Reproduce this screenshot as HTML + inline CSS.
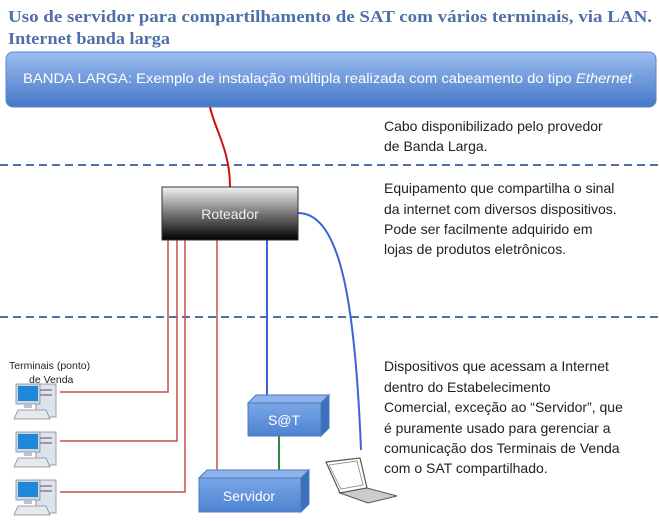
<!DOCTYPE html>
<html><head><meta charset="utf-8"><style>
html,body{margin:0;padding:0;background:#fff;}
svg{display:block;font-family:"Liberation Sans",sans-serif;}
</style></head><body>
<svg width="659" height="521" viewBox="0 0 659 521" xmlns="http://www.w3.org/2000/svg">
<defs>
<linearGradient id="bl" x1="0" y1="0" x2="0" y2="1"><stop offset="0" stop-color="#9dbdf0"/><stop offset="1" stop-color="#4478c8"/></linearGradient>
<linearGradient id="rt" x1="0" y1="0" x2="0" y2="1"><stop offset="0" stop-color="#f2f2f2"/><stop offset="0.5" stop-color="#777"/><stop offset="1" stop-color="#000"/></linearGradient>
<linearGradient id="bx" x1="0" y1="0" x2="0" y2="1"><stop offset="0" stop-color="#7aa6e6"/><stop offset="1" stop-color="#4d83d2"/></linearGradient>
<g id="pc">
<rect x="20" y="-8" width="20" height="33" fill="#dde3ea" stroke="#889" stroke-width="0.8"/>
<rect x="24" y="-3" width="12" height="2" fill="#99a"/>
<rect x="24" y="2" width="12" height="2" fill="#99a"/>
<rect x="0" y="-8" width="24" height="20" fill="#cfd8e2" stroke="#889" stroke-width="0.8"/>
<rect x="2" y="-6" width="20" height="15" fill="#1e88d8"/>
<rect x="8" y="12" width="8" height="4" fill="#b8c2cc"/>
<polygon points="2,18 30,18 34,27 -2,27" fill="#e6e9ee" stroke="#889" stroke-width="0.8"/>
</g>
</defs>
<text x="8" y="22" font-family="Liberation Serif,serif" font-weight="bold" font-size="17" fill="#4f70a6" textLength="644" lengthAdjust="spacingAndGlyphs">Uso de servidor para compartilhamento de SAT com vários terminais, via LAN.</text>
<text x="8" y="44" font-family="Liberation Serif,serif" font-weight="bold" font-size="17" fill="#4f70a6" textLength="162" lengthAdjust="spacingAndGlyphs">Internet banda larga</text>
<rect x="6" y="52" width="650" height="55" rx="7" fill="url(#bl)" stroke="#5b86c8"/>
<text x="23" y="83" font-size="13.5" fill="#fff" textLength="609" lengthAdjust="spacingAndGlyphs">BANDA LARGA: Exemplo de instalação múltipla realizada com cabeamento do tipo <tspan font-style="italic">Ethernet</tspan></text>
<g stroke="#4f70a6" stroke-width="2" stroke-dasharray="8,5">
<line x1="0" y1="165" x2="659" y2="165"/><line x1="0" y1="317" x2="659" y2="317"/>
</g>
<g font-size="14" fill="#222">
<text x="384" y="131">Cabo disponibilizado pelo provedor</text>
<text x="384" y="151">de Banda Larga.</text>
<text x="384" y="193">Equipamento que compartilha o sinal</text>
<text x="384" y="214">da internet com diversos dispositivos.</text>
<text x="384" y="234">Pode ser facilmente adquirido em</text>
<text x="384" y="254">lojas de produtos eletrônicos.</text>
<text x="384" y="371">Dispositivos que acessam a Internet</text>
<text x="384" y="392">dentro do Estabelecimento</text>
<text x="384" y="412">Comercial, exceção ao “Servidor”, que</text>
<text x="384" y="433">é puramente usado para gerenciar a</text>
<text x="384" y="453">comunicação dos Terminais de Venda</text>
<text x="384" y="473">com o SAT compartilhado.</text>
</g>
<path d="M210,107 C215,130 230,150 230,187" stroke="#d01010" stroke-width="2" fill="none"/>
<g stroke="#c0504d" stroke-width="1.5" fill="none">
<polyline points="168,240 168,392 60,392"/>
<polyline points="177,240 177,441 60,441"/>
<polyline points="185,240 185,492 60,492"/>
<line x1="217" y1="240" x2="217" y2="472"/>
</g>
<line x1="267" y1="240" x2="267" y2="397" stroke="#3c64d8" stroke-width="2"/>
<path d="M298,213 C340,213 355,300 361,450" stroke="#3c64d8" stroke-width="2" fill="none"/>
<line x1="279" y1="432" x2="279" y2="472" stroke="#2e8b2e" stroke-width="2"/>
<rect x="162" y="187" width="136" height="53" fill="url(#rt)" stroke="#333"/>
<text x="230" y="219" text-anchor="middle" font-size="14" fill="#eee">Roteador</text>
<polygon points="248,403 256,395 329,395 321,403" fill="#8fb4ea" stroke="#4a78c0"/>
<polygon points="321,403 329,395 329,428 321,436" fill="#3d6fbf" stroke="#4a78c0"/>
<rect x="248" y="403" width="73" height="33" fill="url(#bx)" stroke="#4a78c0"/>
<text x="284" y="425" text-anchor="middle" font-size="14" fill="#fff">S@T</text>
<polygon points="199,478 207,470 309,470 301,478" fill="#8fb4ea" stroke="#4a78c0"/>
<polygon points="301,478 309,470 309,504 301,512" fill="#3d6fbf" stroke="#4a78c0"/>
<rect x="199" y="478" width="102" height="34" fill="url(#bx)" stroke="#4a78c0"/>
<text x="249" y="501" text-anchor="middle" font-size="14" fill="#fff">Servidor</text>
<polygon points="326,462 360,458 367,488 340,493" fill="#fff" stroke="#555" stroke-width="1.2"/>
<polygon points="329,465 357,461 363,485 341,489" fill="#fff" stroke="#888" stroke-width="0.8"/>
<polygon points="340,493 367,488 397,496 368,503" fill="#ccc" stroke="#555" stroke-width="1"/>
<text x="9" y="369" font-size="10.5" fill="#222">Terminais (ponto)</text>
<text x="29" y="383" font-size="10.5" fill="#222">de Venda</text>
<use href="#pc" x="16" y="392"/>
<use href="#pc" x="16" y="440"/>
<use href="#pc" x="16" y="488"/>
</svg>
</body></html>
